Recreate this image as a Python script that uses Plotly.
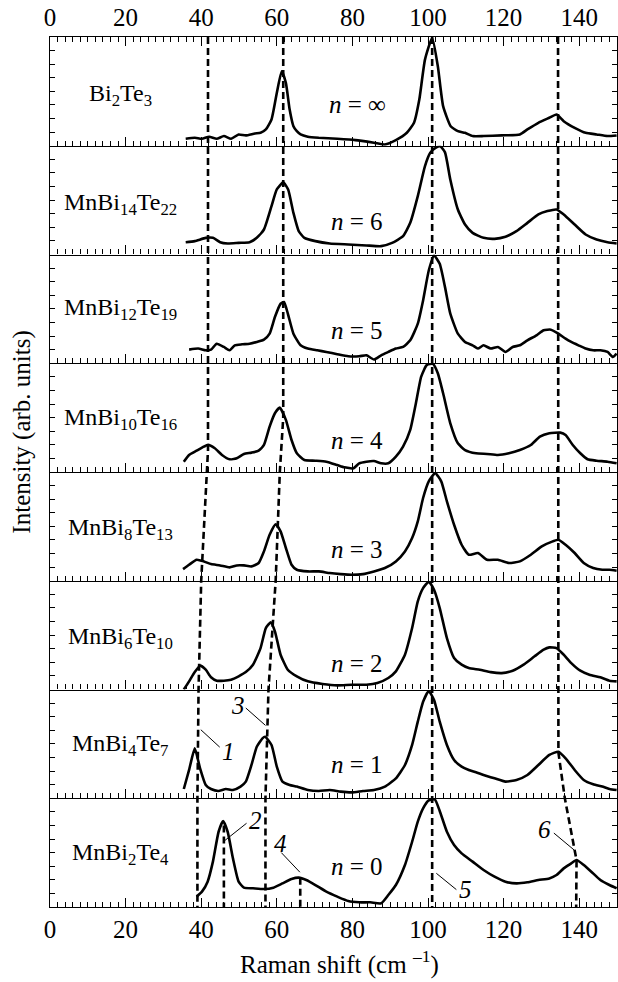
import plotly.graph_objects as go
from plotly.subplots import make_subplots

# ---------------- data ----------------
compounds = ["Bi<sub>2</sub>Te<sub>3</sub>", "MnBi<sub>14</sub>Te<sub>22</sub>",
             "MnBi<sub>12</sub>Te<sub>19</sub>", "MnBi<sub>10</sub>Te<sub>16</sub>",
             "MnBi<sub>8</sub>Te<sub>13</sub>", "MnBi<sub>6</sub>Te<sub>10</sub>",
             "MnBi<sub>4</sub>Te<sub>7</sub>", "MnBi<sub>2</sub>Te<sub>4</sub>"]
n_values = ["∞", "6", "5", "4", "3", "2", "1", "0"]

x_bi2te3 = [35.9, 38.3, 40.2, 42.1, 44.1, 46.0, 47.9, 49.9, 51.8, 54.2, 55.7, 57.1, 58.6, 60.0, 61.3, 62.4,
            63.4, 64.4, 65.3, 66.3, 68.2, 71.1, 76.0, 80.8, 85.7, 88.6, 91.5, 94.4, 96.3, 97.7, 99.2, 101.1,
            102.6, 104.0, 106.0, 107.9, 109.8, 111.8, 114.7, 119.5, 124.3, 126.3, 129.2, 132.1, 134.0, 135.9,
            138.8, 141.7, 144.6, 147.5, 149.9]
y_bi2te3 = [0.064, 0.073, 0.064, 0.083, 0.064, 0.089, 0.064, 0.104, 0.095, 0.113, 0.119, 0.150, 0.242, 0.486,
            0.685, 0.578, 0.333, 0.180, 0.134, 0.104, 0.083, 0.073, 0.064, 0.052, 0.028, 0.012, 0.052, 0.119,
            0.211, 0.425, 0.792, 0.991, 0.731, 0.364, 0.180, 0.134, 0.119, 0.089, 0.089, 0.095, 0.104, 0.150,
            0.211, 0.257, 0.287, 0.226, 0.165, 0.119, 0.104, 0.089, 0.095]

x_n6 = [35.9, 38.3, 41.2, 43.1, 45.0, 47.0, 49.9, 52.8, 54.7, 56.6, 58.6, 60.0, 61.7, 63.0, 64.4, 65.8, 67.3,
        70.2, 74.0, 78.9, 83.7, 87.6, 90.5, 93.4, 95.3, 97.3, 99.2, 100.6, 102.1, 103.3, 104.5, 105.9, 107.9,
        109.8, 111.8, 114.7, 117.6, 120.5, 123.4, 126.3, 129.2, 131.6, 134.0, 135.9, 138.8, 141.7, 144.6,
        147.5, 149.9]
y_n6 = [0.113, 0.123, 0.153, 0.153, 0.113, 0.101, 0.107, 0.113, 0.153, 0.230, 0.445, 0.598, 0.663, 0.598,
        0.383, 0.215, 0.153, 0.123, 0.101, 0.092, 0.083, 0.077, 0.107, 0.169, 0.291, 0.537, 0.813, 0.935,
        0.982, 0.994, 0.939, 0.690, 0.414, 0.276, 0.199, 0.153, 0.144, 0.163, 0.215, 0.291, 0.368, 0.399,
        0.414, 0.368, 0.276, 0.184, 0.138, 0.113, 0.101]

x_n5 = [36.8, 39.2, 41.2, 42.6, 44.1, 46.0, 47.5, 48.9, 50.8, 52.8, 54.7, 56.6, 58.1, 59.5, 61.0, 61.9, 62.9,
        64.4, 66.3, 68.2, 70.7, 73.1, 76.0, 78.9, 81.8, 83.7, 85.7, 87.6, 89.5, 91.5, 93.4, 95.3, 97.3, 98.7,
        100.2, 101.6, 103.1, 104.5, 105.9, 107.9, 109.8, 111.8, 113.2, 114.7, 116.6, 118.5, 120.5, 122.4,
        124.3, 126.3, 128.7, 130.6, 132.5, 134.5, 136.4, 137.9, 139.8, 141.7, 143.7, 145.6, 147.5, 148.9, 149.9]
y_n5 = [0.125, 0.135, 0.119, 0.125, 0.180, 0.150, 0.119, 0.165, 0.174, 0.180, 0.196, 0.217, 0.272, 0.425,
        0.547, 0.563, 0.459, 0.272, 0.165, 0.135, 0.119, 0.104, 0.083, 0.064, 0.064, 0.073, 0.034, 0.073,
        0.104, 0.135, 0.150, 0.211, 0.364, 0.578, 0.853, 0.991, 0.914, 0.700, 0.456, 0.272, 0.196, 0.165,
        0.135, 0.165, 0.135, 0.150, 0.104, 0.150, 0.165, 0.211, 0.257, 0.303, 0.309, 0.272, 0.226, 0.196,
        0.165, 0.135, 0.119, 0.119, 0.104, 0.058, 0.089]

x_n4 = [35.4, 36.8, 38.8, 40.7, 41.8, 43.6, 45.5, 47.5, 49.4, 51.3, 53.3, 55.2, 56.6, 58.1, 59.5, 60.8, 62.4,
        63.9, 65.3, 67.3, 70.2, 73.1, 76.0, 77.9, 80.3, 81.8, 83.7, 85.7, 87.6, 89.5, 91.5, 93.4, 95.3, 96.8,
        98.2, 99.7, 101.3, 102.6, 104.0, 105.9, 107.9, 109.8, 112.7, 115.6, 118.5, 121.4, 124.3, 127.2, 129.6,
        132.1, 135.0, 136.4, 138.3, 140.3, 142.2, 144.6, 147.5, 149.9]
y_n4 = [0.095, 0.157, 0.196, 0.233, 0.249, 0.218, 0.157, 0.117, 0.126, 0.166, 0.178, 0.196, 0.249, 0.417,
        0.540, 0.592, 0.479, 0.294, 0.172, 0.110, 0.104, 0.095, 0.064, 0.043, 0.034, 0.080, 0.095, 0.101,
        0.080, 0.080, 0.141, 0.233, 0.387, 0.632, 0.877, 0.985, 0.994, 0.908, 0.724, 0.448, 0.264, 0.202,
        0.172, 0.166, 0.156, 0.172, 0.202, 0.248, 0.325, 0.356, 0.362, 0.340, 0.248, 0.172, 0.117, 0.104,
        0.095, 0.080]

x_n3 = [35.2, 36.8, 38.8, 40.7, 42.6, 45.0, 47.5, 49.4, 51.3, 53.3, 55.2, 56.6, 58.1, 59.7, 61.0, 62.4, 63.9,
        65.3, 68.2, 71.1, 74.0, 76.9, 79.8, 82.8, 85.7, 88.6, 91.5, 93.9, 95.8, 97.3, 98.7, 100.2, 101.9,
        103.5, 105.0, 106.9, 108.9, 110.8, 113.2, 115.6, 118.5, 121.4, 124.3, 127.2, 130.1, 133.0, 134.5,
        136.4, 138.8, 141.2, 143.7, 146.1, 148.0, 149.9]
y_n3 = [0.107, 0.147, 0.193, 0.178, 0.153, 0.141, 0.123, 0.141, 0.141, 0.132, 0.163, 0.270, 0.423, 0.518,
        0.454, 0.301, 0.147, 0.101, 0.086, 0.086, 0.071, 0.061, 0.055, 0.061, 0.086, 0.117, 0.178, 0.270,
        0.393, 0.546, 0.761, 0.914, 0.990, 0.914, 0.730, 0.515, 0.331, 0.239, 0.255, 0.193, 0.193, 0.163,
        0.178, 0.239, 0.316, 0.362, 0.377, 0.331, 0.255, 0.163, 0.117, 0.101, 0.101, 0.092]

x_n2 = [35.4, 36.8, 38.3, 39.7, 41.2, 42.6, 44.1, 46.0, 47.9, 49.9, 51.8, 53.7, 55.7, 57.1, 58.4, 59.5, 61.0,
        62.9, 65.3, 68.2, 72.1, 76.0, 79.8, 83.7, 86.6, 89.5, 91.5, 93.9, 95.8, 97.3, 98.7, 100.2, 101.6,
        103.1, 105.0, 106.9, 108.9, 110.8, 113.7, 116.6, 119.5, 122.4, 125.3, 128.2, 130.6, 132.1, 134.0,
        135.9, 137.9, 140.3, 142.7, 145.6, 148.0, 149.9]
y_n2 = [0.000, 0.075, 0.160, 0.219, 0.182, 0.112, 0.081, 0.081, 0.090, 0.121, 0.160, 0.228, 0.381, 0.565,
        0.617, 0.535, 0.320, 0.182, 0.121, 0.075, 0.051, 0.038, 0.044, 0.044, 0.060, 0.106, 0.167, 0.320,
        0.565, 0.810, 0.932, 0.991, 0.917, 0.749, 0.473, 0.290, 0.228, 0.197, 0.182, 0.160, 0.151, 0.173,
        0.228, 0.305, 0.366, 0.387, 0.381, 0.320, 0.243, 0.173, 0.136, 0.112, 0.081, 0.075]

x_n1 = [35.4, 36.8, 38.3, 39.7, 41.2, 42.6, 44.5, 46.5, 48.4, 50.4, 51.8, 53.3, 54.7, 56.2, 56.9, 58.6, 60.0,
        61.5, 63.4, 65.3, 68.2, 71.1, 74.0, 76.9, 79.8, 82.8, 85.7, 88.6, 91.5, 93.9, 95.8, 97.3, 98.7, 100.2,
        101.6, 103.1, 105.0, 106.9, 108.9, 110.8, 112.7, 114.7, 117.6, 120.5, 123.4, 126.3, 129.2, 132.1,
        134.5, 136.4, 138.8, 141.2, 143.7, 146.1, 148.0, 149.9]
y_n1 = [0.085, 0.260, 0.459, 0.275, 0.122, 0.085, 0.067, 0.085, 0.076, 0.107, 0.153, 0.306, 0.474, 0.551,
        0.566, 0.490, 0.291, 0.153, 0.122, 0.107, 0.076, 0.067, 0.076, 0.061, 0.054, 0.067, 0.076, 0.107,
        0.183, 0.306, 0.490, 0.704, 0.888, 0.986, 0.904, 0.704, 0.490, 0.352, 0.291, 0.260, 0.239, 0.214,
        0.183, 0.153, 0.168, 0.214, 0.306, 0.398, 0.428, 0.367, 0.260, 0.168, 0.128, 0.107, 0.085, 0.076]

x_n0 = [38.8, 40.2, 41.7, 43.1, 44.6, 45.8, 47.0, 48.4, 49.9, 51.3, 53.7, 56.6, 59.1, 61.5, 63.9, 65.8, 67.8,
        70.2, 73.1, 76.0, 78.9, 81.8, 84.7, 87.6, 89.5, 91.5, 93.9, 95.8, 97.3, 98.7, 100.2, 101.8, 103.1,
        105.0, 106.9, 108.9, 111.8, 114.7, 117.6, 120.5, 123.4, 126.3, 129.2, 132.1, 134.0, 135.9, 137.9,
        139.3, 141.2, 143.2, 145.6, 148.0, 149.9]
y_n0 = [0.095, 0.141, 0.233, 0.417, 0.692, 0.790, 0.692, 0.447, 0.233, 0.178, 0.172, 0.165, 0.178, 0.217,
        0.257, 0.270, 0.248, 0.202, 0.141, 0.095, 0.055, 0.043, 0.043, 0.034, 0.110, 0.202, 0.386, 0.600,
        0.785, 0.907, 0.980, 0.990, 0.883, 0.692, 0.570, 0.493, 0.417, 0.340, 0.279, 0.233, 0.217, 0.227,
        0.248, 0.263, 0.294, 0.355, 0.401, 0.432, 0.386, 0.325, 0.248, 0.202, 0.172]

spectra_x = [x_bi2te3, x_n6, x_n5, x_n4, x_n3, x_n2, x_n1, x_n0]
spectra_y = [y_bi2te3, y_n6, y_n5, y_n4, y_n3, y_n2, y_n1, y_n0]

# peak-position guide lines (x = Raman shift, y = stack level 0..8, 8 = top of Bi2Te3 panel)
mode1_x = [41.8, 41.8, 40.0, 39.3, 39.0, 39.0]
mode1_y = [8.0, 4.2, 3.0, 2.0, 1.0, 0.0]
mode3_x = [61.7, 61.7, 60.8, 59.7, 57.8, 57.0, 57.0]
mode3_y = [8.0, 4.5, 4.0, 3.0, 2.0, 1.0, 0.0]
mode5_x = [101.1, 101.1]
mode5_y = [8.0, 0.0]
mode6_x = [134.4, 134.5, 136.2, 138.8, 139.3, 139.2]
mode6_y = [8.0, 1.42, 1.0, 0.52, 0.43, 0.0]
mode2_x = [46.0, 46.0]
mode2_y = [0.75, 0.0]
mode4_x = [66.2, 66.2]
mode4_y = [0.27, 0.0]

mode_labels = ["1", "2", "3", "4", "5", "6"]
label_x = [47.2, 54.4, 49.7, 61.1, 109.8, 130.9]
label_y = [1.43, 0.80, 1.85, 0.58, 0.165, 0.71]
leader_x0 = [39.9, 52.0, 51.8, 61.2, 102.2, 133.3]
leader_y0 = [1.63, 0.77, 1.83, 0.50, 0.31, 0.68]
leader_x1 = [44.9, 46.2, 57.0, 66.1, 107.5, 138.8]
leader_y1 = [1.47, 0.61, 1.67, 0.32, 0.16, 0.52]

compound_y = [0.47, 0.46, 0.50, 0.49, 0.48, 0.47, 0.49, 0.49]
n_label_y = [0.38, 0.30, 0.30, 0.29, 0.29, 0.24, 0.31, 0.37]

x_ticks = [0, 20, 40, 60, 80, 100, 120, 140]

# ---------------- figure ----------------
FONT = "Liberation Serif, Times New Roman, serif"
N = len(compounds)
fig = make_subplots(rows=N, cols=1, shared_xaxes=False, vertical_spacing=0)

for i in range(N):
    fig.add_trace(go.Scatter(x=spectra_x[i], y=spectra_y[i], mode="lines",
                             line=dict(color="black", width=2.6, shape="spline", smoothing=0.5),
                             showlegend=False, hoverinfo="skip"), row=i + 1, col=1)

for i in range(N):
    xa = dict(range=[0, 150], tickmode="array", tickvals=x_ticks, ticks="inside", ticklen=9,
              tickwidth=1.3, tickcolor="black", showline=True, linewidth=1.3, linecolor="black",
              showgrid=False, zeroline=False,
              minor=dict(ticks="inside", dtick=2, tick0=0, ticklen=5, tickwidth=1, tickcolor="black"),
              tickfont=dict(family=FONT, size=25, color="black"))
    if i == 0:
        xa.update(side="top", mirror="ticks", showticklabels=True)
    elif i == N - 1:
        xa.update(side="bottom", mirror=False, showticklabels=True, ticklabelstandoff=0)
    else:
        xa.update(side="bottom", mirror=False, showticklabels=False)
    fig.update_xaxes(xa, row=i + 1, col=1)
    fig.update_yaxes(dict(range=[0, 1], showticklabels=False, ticks="inside", tickmode="linear",
                          tick0=0, dtick=0.125, ticklen=5, tickwidth=1, tickcolor="black",
                          showline=True, linewidth=1.3, linecolor="black", mirror="ticks",
                          showgrid=False, zeroline=False), row=i + 1, col=1)

# overlay axes spanning the whole stack for the guide lines
fig.update_layout(
    xaxis9=dict(domain=[0, 1], range=[0, 150], visible=False, anchor="y9"),
    yaxis9=dict(domain=[0, 1], range=[0, 8], visible=False, anchor="x9"),
)

dash_style = dict(color="black", width=2.6, dash="7px,4px")
for mx, my in [(mode1_x, mode1_y), (mode3_x, mode3_y), (mode5_x, mode5_y),
               (mode6_x, mode6_y), (mode2_x, mode2_y), (mode4_x, mode4_y)]:
    fig.add_trace(go.Scatter(x=mx, y=my, mode="lines", line=dash_style, xaxis="x9", yaxis="y9",
                             showlegend=False, hoverinfo="skip"))

for k in range(len(mode_labels)):
    fig.add_trace(go.Scatter(x=[leader_x0[k], leader_x1[k]], y=[leader_y0[k], leader_y1[k]],
                             mode="lines", line=dict(color="black", width=1), xaxis="x9", yaxis="y9",
                             showlegend=False, hoverinfo="skip"))
    fig.add_annotation(x=label_x[k], y=label_y[k], xref="x9", yref="y9", text="<i>" + mode_labels[k] + "</i>",
                       showarrow=False, font=dict(family=FONT, size=25, color="black"))

for i in range(N):
    level = N - 1 - i
    fig.add_annotation(x=18.6, y=level + compound_y[i], xref="x9", yref="y9", text=compounds[i],
                       showarrow=False, font=dict(family=FONT, size=24, color="black"))
    fig.add_annotation(x=81.3, y=level + n_label_y[i], xref="x9", yref="y9",
                       text="<i>n</i> = " + n_values[i],
                       showarrow=False, font=dict(family=FONT, size=25, color="black"))

fig.add_annotation(x=0.511, y=-0.064, xref="paper", yref="paper", text="Raman shift (cm <sup>–1</sup>)",
                   showarrow=False, yanchor="middle", font=dict(family=FONT, size=25, color="black"))
fig.add_annotation(x=-0.050, y=0.546, xref="paper", yref="paper", text="Intensity (arb. units)",
                   textangle=-90, showarrow=False, xanchor="center", yanchor="middle",
                   font=dict(family=FONT, size=25, color="black"))

fig.update_layout(width=618, height=982, margin=dict(l=50, r=1, t=37, b=75),
                  paper_bgcolor="white", plot_bgcolor="rgba(0,0,0,0)",
                  font=dict(family=FONT, color="black"), showlegend=False)

fig.write_html("out.html")
